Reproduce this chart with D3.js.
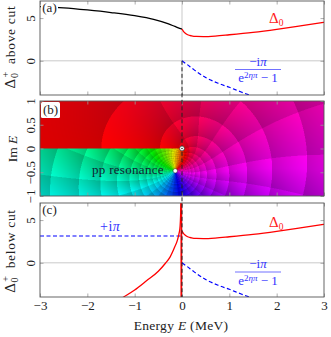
<!DOCTYPE html>
<html>
<head>
<meta charset="utf-8">
<script src="https://cdn.jsdelivr.net/npm/d3@7"></script>
<style>
  html, body { margin: 0; padding: 0; background: #fff; }
  text { font-family: "Liberation Serif", serif; fill: #222; }
</style>
</head>
<body>
<svg id="chart" width="331" height="337"></svg>
<script>
// values
var xTicks = [-3, -2, -1, 0, 1, 2, 3];
var deltaTicks = [0, 5];
var imTicks = [-1, -0.5, 0, 0.5, 1];
var imTickLabels = ['\u22121', '\u22120.5', '0', '0.5', '1'];

var blackE = [-3, -2.5, -2, -1.5, -1, -0.6, -0.3, -0.15, -0.05, 0];
var blackD = [6.35, 6.2, 5.95, 5.65, 5.28, 4.85, 4.35, 4.02, 3.8, 3.7];

var redE = [0, 0.03, 0.07, 0.12, 0.2, 0.3, 0.45, 0.7, 1, 1.5, 2, 2.5, 3];
var redD = [3.7, 3.45, 3.22, 3.05, 2.92, 2.85, 2.84, 2.9, 3.05, 3.33, 3.68, 4.08, 4.5];

var cutE = [-1.35, -1.25, -1, -0.75, -0.5, -0.35, -0.25, -0.15, -0.1, -0.06, -0.04, -0.028, -0.02];
var cutD = [-4.4, -4.05, -3.18, -2.1, -0.98, -0.05, 0.7, 1.9, 2.6, 3.5, 4.3, 5.8, 7.5];

var spikeE = [-0.015, -0.015];
var spikeD = [-4.5, 7.5];

var tailE = [0, 0.1, 0.25, 0.5, 0.75, 1, 1.25, 1.5, 1.6];
var tailD = [0, -0.4, -1.03, -1.95, -2.6, -3.1, -3.65, -4.15, -4.35];

var plusE = [-3, 0];
var plusD = [3.14, 3.14];

var origin = [0, 0];
var resonance = [-0.143, -0.47];

// panel (b) is a phase plot, too dense to list cell by cell: every cell colour is
// worked out from these few constants of the function the panel shows (estimated, not read)
var scatterA = 0.128, rangeHalf = 1.4, bohr = 57.6, kScale = 41.47;
var shadeStep = 2 * Math.PI / 32;

var svg = d3.select('#chart');
var x = d3.scaleLinear().domain([-3, 3]).range([40, 324]);
var yTop = d3.scaleLinear().domain([-4, 7]).range([95, 1]);
var yMid = d3.scaleLinear().domain([-1, 1]).range([196, 101]);
var yBot = d3.scaleLinear().domain([-4, 7]).range([297, 203]);

var frameColor = '#555';
var tickColor = '#999';
var gridColor = '#bbb';

function cmul(a, b) { return [a[0] * b[0] - a[1] * b[1], a[0] * b[1] + a[1] * b[0]]; }
function cinv(a) { var d = a[0] * a[0] + a[1] * a[1]; return [a[0] / d, -a[1] / d]; }
function clog(a) { return [Math.log(Math.hypot(a[0], a[1])), Math.atan2(a[1], a[0])]; }
function csqrt(a) {
  var r = Math.sqrt(Math.hypot(a[0], a[1])), t = Math.atan2(a[1], a[0]) / 2;
  return [r * Math.cos(t), r * Math.sin(t)];
}

function digamma(z) {
  var re = z[0], sum = [0, 0], inv;
  while (re < 8) {
    inv = cinv([re, z[1]]);
    sum[0] -= inv[0];
    sum[1] -= inv[1];
    re += 1;
  }
  var w = [re, z[1]], l = clog(w);
  var i1 = cinv(w), i2 = cmul(i1, i1), i4 = cmul(i2, i2), i6 = cmul(i4, i2);
  return [
    sum[0] + l[0] - i1[0] / 2 - i2[0] / 12 + i4[0] / 120 - i6[0] / 252,
    sum[1] + l[1] - i1[1] / 2 - i2[1] / 12 + i4[1] / 120 - i6[1] / 252
  ];
}

function fieldAt(re, im) {
  var k2 = [re / kScale, im / kScale];
  var k = csqrt(k2);
  var kInv = cinv(k);
  var z = [-kInv[1] / bohr, kInv[0] / bohr];
  var psi = digamma(z), zi = cinv(z), lz = clog(z);
  var scale = bohr / 2;
  return [
    (scatterA + rangeHalf * k2[0]) * scale - (psi[0] + zi[0] / 2 - lz[0]),
    rangeHalf * k2[1] * scale - (psi[1] + zi[1] / 2 - lz[1])
  ];
}

function saw(v) { return v - Math.floor(v); }

function drawField() {
  var ss = 2;
  var w = Math.round(x(3) - x(-3)) * ss, h = Math.round(yMid(-1) - yMid(1)) * ss;
  var canvas = document.createElement('canvas');
  canvas.width = w;
  canvas.height = h;
  var ctx = canvas.getContext('2d');
  var img = ctx.createImageData(w, h);
  for (var j = 0; j < h; j++) {
    for (var i = 0; i < w; i++) {
      var re = x.invert(x(-3) + (i + 0.5) / ss);
      var im = yMid.invert(yMid(1) + (j + 0.5) / ss);
      var f = fieldAt(re, im);
      var mod = Math.log(Math.hypot(f[0], f[1]));
      var arg = Math.atan2(f[1], f[0]);
      var a = saw(mod / shadeStep), b = saw(arg / shadeStep);
      var v = (0.8 + 0.2 * a) * (0.86 + 0.14 * b);
      var c = d3.hsl(arg * 180 / Math.PI, 1, v / 2).rgb();
      var p = (j * w + i) * 4;
      img.data[p] = c.r;
      img.data[p + 1] = c.g;
      img.data[p + 2] = c.b;
      img.data[p + 3] = 255;
    }
  }
  ctx.putImageData(img, 0, 0);
  svg.append('image')
    .attr('x', x(-3)).attr('y', yMid(1))
    .attr('width', w / ss).attr('height', h / ss)
    .attr('preserveAspectRatio', 'none')
    .attr('href', canvas.toDataURL());
}

function styleAxis(g) {
  g.select('.domain').remove();
  g.selectAll('line').attr('stroke', tickColor).attr('stroke-width', 0.8);
}

function drawTicks(y, yValues, yLabels, showX) {
  var h0 = y.range()[0], h1 = y.range()[1];
  var bottom = d3.axisBottom(x).tickValues(xTicks).tickSize(-3.5)
    .tickFormat(function(d) { return showX ? String(d).replace('-', '\u2212') : ''; }).tickPadding(4);
  svg.append('g').attr('transform', 'translate(0,' + h0 + ')').call(bottom).call(styleAxis)
    .selectAll('text').attr('font-size', 13);
  var top = d3.axisTop(x).tickValues(xTicks).tickSize(-3.5).tickFormat('');
  svg.append('g').attr('transform', 'translate(0,' + h1 + ')').call(top).call(styleAxis);

  var left = d3.axisLeft(y).tickValues(yValues).tickSize(-3.5).tickPadding(0)
    .tickFormat(function(d, i) { return yLabels[i]; });
  var leftG = svg.append('g').attr('transform', 'translate(' + x(-3) + ',0)').call(left).call(styleAxis);
  leftG.selectAll('text')
    .attr('font-size', 13)
    .attr('text-anchor', 'middle')
    .attr('dy', 0).attr('x', 0).attr('y', 0)
    .attr('transform', 'translate(-5,0) rotate(-90)');
  var right = d3.axisRight(y).tickValues(yValues).tickSize(-3.5).tickFormat('');
  svg.append('g').attr('transform', 'translate(' + x(3) + ',0)').call(right).call(styleAxis);
}

function drawFrame(y) {
  svg.append('rect')
    .attr('x', x(-3)).attr('y', y.range()[1])
    .attr('width', x(3) - x(-3)).attr('height', y.range()[0] - y.range()[1])
    .attr('fill', 'none').attr('stroke', frameColor).attr('stroke-width', 0.9);
}

function drawCrossing(y) {
  svg.append('line').attr('x1', x(-3)).attr('x2', x(3)).attr('y1', y(0)).attr('y2', y(0))
    .attr('stroke', gridColor).attr('stroke-width', 0.8);
  svg.append('line').attr('x1', x(0)).attr('x2', x(0)).attr('y1', y.range()[0]).attr('y2', y.range()[1])
    .attr('stroke', gridColor).attr('stroke-width', 0.8);
}

function clipFor(id, y) {
  svg.append('clipPath').attr('id', id).append('rect')
    .attr('x', x(-3)).attr('y', y.range()[1])
    .attr('width', x(3) - x(-3)).attr('height', y.range()[0] - y.range()[1]);
}

function curve(y, xs, ys, color, width, dash, clip) {
  var line = d3.line()
    .x(function(d) { return x(d); })
    .y(function(d, i) { return y(ys[i]); })
    .curve(d3.curveMonotoneX);
  svg.append('path')
    .attr('d', line(xs))
    .attr('fill', 'none')
    .attr('stroke', color)
    .attr('stroke-width', width)
    .attr('stroke-dasharray', dash)
    .attr('clip-path', 'url(#' + clip + ')');
}

function tagBox(label, bx, by, w, h) {
  svg.append('rect').attr('x', bx).attr('y', by).attr('width', w).attr('height', h).attr('rx', 1.5).attr('fill', '#fff');
  svg.append('text').attr('x', bx + w / 2).attr('y', by + h - 4).attr('text-anchor', 'middle')
    .attr('font-size', 13).text(label);
}

function deltaLabel(cx, cy) {
  var t = svg.append('text').attr('x', cx).attr('y', cy).attr('font-size', 15).style('fill', '#f22');
  t.append('tspan').text('\u0394');
  t.append('tspan').attr('font-size', 9.5).attr('dy', 2.5).text('0');
}

function fracLabel(cy) {
  var left = 235, right = 281, mid = (left + right) / 2;
  svg.append('line').attr('x1', left).attr('x2', right).attr('y1', cy).attr('y2', cy)
    .attr('stroke', '#33f').attr('stroke-width', 0.7);
  var n = svg.append('text').attr('x', mid).attr('y', cy - 4).attr('text-anchor', 'middle')
    .attr('font-size', 13).style('fill', '#33f');
  n.append('tspan').text('\u2212i');
  n.append('tspan').attr('font-style', 'italic').text('\u03c0');
  var m = svg.append('text').attr('x', mid).attr('y', cy + 12.5).attr('text-anchor', 'middle')
    .attr('font-size', 13).style('fill', '#33f');
  m.append('tspan').text('e');
  m.append('tspan').attr('font-size', 9).attr('dy', -4).text('2');
  m.append('tspan').attr('font-size', 9).attr('font-style', 'italic').text('\u03b7\u03c0');
  m.append('tspan').attr('dy', 4).text(' \u2212 1');
}

function yTitle(cy, word) {
  var t = svg.append('text').attr('text-anchor', 'middle').attr('font-size', 13.5)
    .attr('letter-spacing', 0.7)
    .attr('transform', 'translate(15,' + cy + ') rotate(-90)');
  t.append('tspan').attr('font-size', 15).text('\u0394');
  t.append('tspan').attr('font-size', 10).attr('dy', 3).text('0');
  t.append('tspan').attr('font-size', 10).attr('dy', -9).attr('dx', -5).text('+');
  t.append('tspan').attr('dy', 6).attr('dx', 3).text(word);
}

clipFor('clipA', yTop);
clipFor('clipC', yBot);

// panel (a)
drawCrossing(yTop);
curve(yTop, blackE, blackD, '#000', 1.3, null, 'clipA');
curve(yTop, redE, redD, '#f00', 1.3, null, 'clipA');
curve(yTop, tailE, tailD, '#00f', 1.2, '4,2.5', 'clipA');
drawTicks(yTop, deltaTicks, ['0', '5'], false);
drawFrame(yTop);
tagBox('(a)', 41, 2, 17, 14);
deltaLabel(269, 23);
fracLabel(69.5);
yTitle(47, ' above cut');

// panel (b)
drawField();
drawTicks(yMid, imTicks, imTickLabels, false);
drawFrame(yMid);
tagBox('(b)', 41, 102, 19, 16);
svg.append('text').attr('x', 92).attr('y', 173.5).attr('font-size', 13).attr('letter-spacing', 0.3)
  .style('fill', '#123').text('pp resonance');
var imT = svg.append('text').attr('text-anchor', 'middle').attr('font-size', 13.5)
  .attr('transform', 'translate(17,149) rotate(-90)');
imT.append('tspan').text('Im ');
imT.append('tspan').attr('font-style', 'italic').text('E');

// panel (c)
drawCrossing(yBot);
curve(yBot, plusE, plusD, '#00f', 1.1, '4,2.5', 'clipC');
curve(yBot, cutE, cutD, '#f00', 1.3, null, 'clipC');
curve(yBot, spikeE, spikeD, '#f00', 1.7, null, 'clipC');
curve(yBot, redE, redD, '#f00', 1.3, null, 'clipC');
curve(yBot, tailE, tailD, '#00f', 1.2, '4,2.5', 'clipC');
drawTicks(yBot, deltaTicks, ['0', '5'], true);
drawFrame(yBot);
tagBox('(c)', 41, 204, 17, 14);
deltaLabel(269, 227);
fracLabel(272);
yTitle(251, ' below cut');
var plusT = svg.append('text').attr('x', 100).attr('y', 231).attr('font-size', 14).attr('letter-spacing', 0.5).style('fill', '#33f');
plusT.append('tspan').text('+i');
plusT.append('tspan').attr('font-style', 'italic').text('\u03c0');

// the cut line runs through all three panels
svg.append('line')
  .attr('x1', x(0)).attr('x2', x(0))
  .attr('y1', yTop(0)).attr('y2', yBot.range()[0])
  .attr('stroke', '#222').attr('stroke-width', 1).attr('stroke-dasharray', '4,2.5');

// markers
svg.append('circle').attr('cx', x(origin[0])).attr('cy', yMid(origin[1])).attr('r', 2.4)
  .attr('fill', '#fff').attr('stroke', '#333').attr('stroke-width', 0.7);
svg.append('circle').attr('cx', x(origin[0])).attr('cy', yMid(origin[1])).attr('r', 0.8).attr('fill', '#333');
svg.append('circle').attr('cx', x(resonance[0])).attr('cy', yMid(resonance[1])).attr('r', 2.2)
  .attr('fill', '#fff').attr('stroke', '#333').attr('stroke-width', 0.5);

// x title
var xT = svg.append('text').attr('x', 181).attr('y', 330).attr('text-anchor', 'middle').attr('font-size', 13.5)
  .attr('letter-spacing', 0.3);
xT.append('tspan').text('Energy ');
xT.append('tspan').attr('font-style', 'italic').text('E');
xT.append('tspan').text(' (MeV)');
</script>
</body>
</html>
